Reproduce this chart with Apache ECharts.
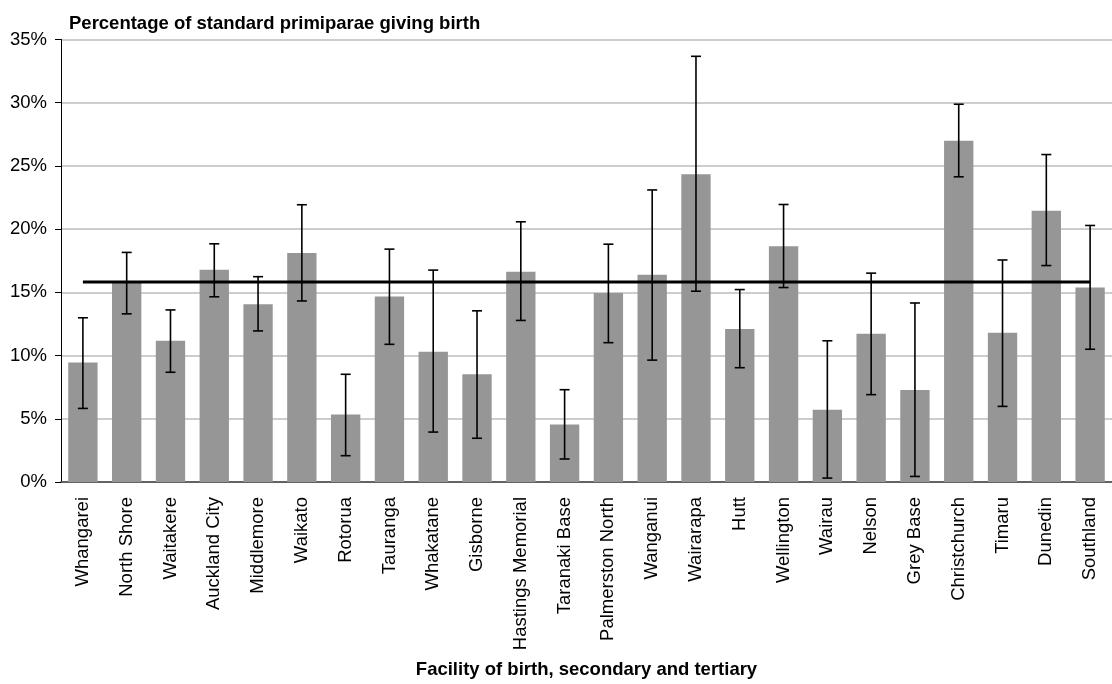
<!DOCTYPE html>
<html>
<head>
<meta charset="utf-8">
<script src="https://cdn.jsdelivr.net/npm/echarts@6/dist/echarts.min.js"></script>
<style>
html,body{margin:0;padding:0;background:#fff;}
#chart{width:1112px;height:684px;}
</style>
</head>
<body>
<div id="chart"></div>
<script>
const categories = ["Whangarei","North Shore","Waitakere","Auckland City","Middlemore","Waikato","Rotorua","Tauranga","Whakatane","Gisborne","Hastings Memorial","Taranaki Base","Palmerston North","Wanganui","Wairarapa","Hutt","Wellington","Wairau","Nelson","Grey Base","Christchurch","Timaru","Dunedin","Southland"];
const values = [9.46,15.8,11.17,16.78,14.06,18.11,5.33,14.68,10.31,8.52,16.63,4.55,14.94,16.39,24.34,12.11,18.65,5.72,11.72,7.27,26.99,11.8,21.46,15.38];
const lowerCI = [5.82,13.3,8.68,14.65,11.95,14.32,2.08,10.89,3.95,3.46,12.78,1.82,11.02,9.64,15.09,9.04,15.38,0.31,6.91,0.44,24.14,5.98,17.12,10.5];
const upperCI = [12.99,18.16,13.61,18.84,16.24,21.93,8.52,18.42,16.76,13.54,20.58,7.3,18.81,23.1,33.67,15.22,21.95,11.17,16.52,14.16,29.88,17.56,25.9,20.29];
const benchmark = 15.82;
const yTicks = [0,5,10,15,20,25,30,35];

const FONT = "'Liberation Sans', Arial, Helvetica, sans-serif";
const FS = 18.5;
const chart = echarts.init(document.getElementById('chart'), null, {renderer:'canvas'});

const errData = categories.map((c,i)=>[i, lowerCI[i], upperCI[i]]);
const refData = categories.map(()=>benchmark);

chart.setOption({
  animation:false,
  backgroundColor:'#ffffff',
  textStyle:{fontFamily:FONT},
  title:{
    text:'Percentage of standard primiparae giving birth',
    left:64, top:9,
    textStyle:{fontFamily:FONT,fontSize:FS,fontWeight:'bold',color:'#000'}
  },
  grid:{left:61,right:-9,top:39.5,bottom:196,containLabel:false},
  xAxis:{
    type:'category',
    data:categories,
    name:'Facility of birth, secondary and tertiary',
    nameLocation:'middle',
    nameGap:178,
    nameTextStyle:{fontFamily:FONT,fontSize:FS,fontWeight:'bold',color:'#000'},
    axisLine:{show:true,lineStyle:{color:'#404040',width:1.5}},
    axisTick:{show:false},
    axisLabel:{rotate:90,margin:15,fontSize:FS,color:'#000',fontFamily:FONT,interval:0},
    splitLine:{show:false}
  },
  yAxis:{
    type:'value',
    min:yTicks[0], max:yTicks[yTicks.length-1], interval:5,
    axisLine:{show:true,lineStyle:{color:'#000',width:1}},
    axisTick:{show:true,length:6,lineStyle:{color:'#000',width:1}},
    axisLabel:{formatter:'{value}%',fontSize:FS,color:'#000',margin:14,fontFamily:FONT},
    splitLine:{show:true,lineStyle:{color:'#bdbdbd',width:1.5}}
  },
  series:[
    {
      type:'bar',
      data:values,
      barWidth:'67%',
      itemStyle:{color:'#969696'},
      z:2
    },
    {
      type:'custom',
      data:errData,
      z:3,
      renderItem:function(params, api){
        const i = api.value(0);
        const lo = api.coord([i, api.value(1)]);
        const hi = api.coord([i, api.value(2)]);
        const x = lo[0];
        const hw = 5;
        const st = {stroke:'#000',lineWidth:1.6};
        return {
          type:'group',
          children:[
            {type:'line',shape:{x1:x,y1:hi[1],x2:x,y2:lo[1]},style:st},
            {type:'line',shape:{x1:x-hw,y1:hi[1],x2:x+hw,y2:hi[1]},style:st},
            {type:'line',shape:{x1:x-hw,y1:lo[1],x2:x+hw,y2:lo[1]},style:st}
          ]
        };
      }
    },
    {
      type:'line',
      data:refData,
      symbol:'none',
      lineStyle:{color:'#000',width:3},
      z:4
    }
  ]
});
</script>
</body>
</html>
